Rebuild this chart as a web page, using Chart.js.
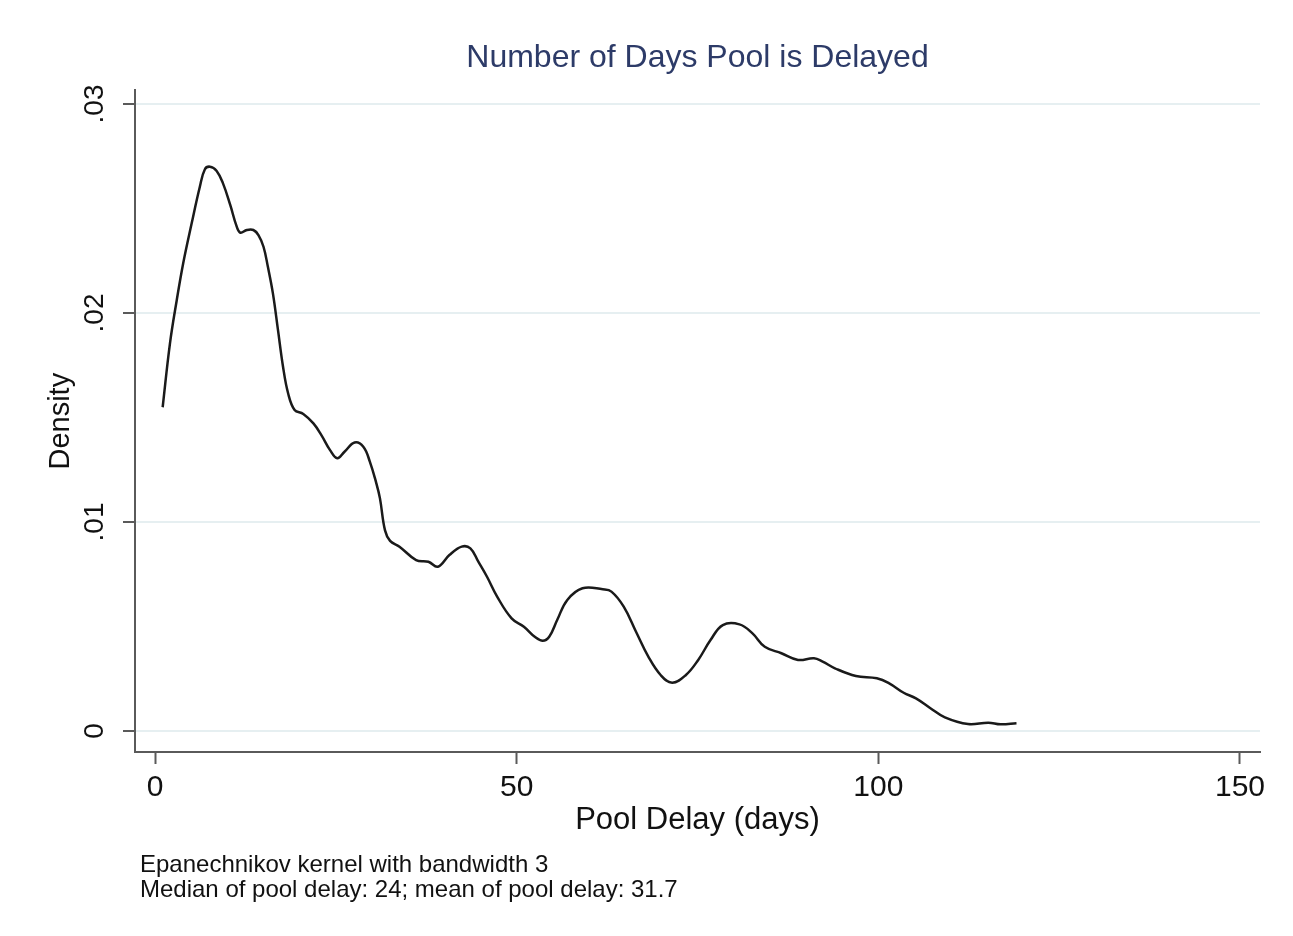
<!DOCTYPE html>
<html>
<head>
<meta charset="utf-8">
<title>Number of Days Pool is Delayed</title>
<script src="https://cdn.jsdelivr.net/npm/chart.js@4.4.1/dist/chart.umd.min.js"></script>
<style>
  html, body { margin: 0; padding: 0; background: #fff; }
  canvas { display: block; }
</style>
</head>
<body>
<canvas id="densityChart" width="1293" height="936"></canvas>
<script>
// kernel density estimate
const delayDays = [
  1.06, 2.07, 3.0, 3.9, 5.07, 6.2, 6.9, 7.6, 8.5, 9.4, 10.4, 11.3, 11.8, 12.7, 13.6,
  14.3, 15.0, 15.6, 16.3, 17.0, 17.7, 18.4, 19.3, 20.5, 21.9, 23.0, 24.2, 25.2, 26.2,
  27.6, 28.8, 29.7, 30.6, 31.1, 31.8, 32.5, 33.8, 36.1, 37.8, 39.1, 40.7, 42.4, 43.6,
  44.7, 45.9, 47.3, 49.3, 51.0, 52.5, 53.6, 54.5, 55.6, 57.0, 59.1, 61.9, 63.1, 64.8,
  66.5, 68.2, 69.9, 71.5, 73.4, 75.1, 76.8, 78.5, 80.8, 82.6, 84.3, 86.6, 88.9, 91.1,
  92.3, 94.0, 96.9, 99.8, 101.5, 103.5, 105.2, 107.2, 109.2, 112.4, 115.2, 116.9, 119.1
];
const density = [
  0.01549, 0.01855, 0.0206, 0.02238, 0.02429, 0.02604, 0.02688, 0.0270, 0.02681, 0.0262,
  0.02517, 0.02413, 0.02384, 0.02397, 0.02397, 0.02373, 0.02317, 0.02222, 0.02094, 0.01919,
  0.01743, 0.01616, 0.01536, 0.01517, 0.01472, 0.01416, 0.01344, 0.01305, 0.01336, 0.0138,
  0.0136, 0.01289, 0.01185, 0.01113, 0.0096, 0.0091, 0.00882, 0.00818, 0.0081, 0.00786,
  0.00842, 0.00882, 0.00874, 0.0081, 0.00738, 0.00643, 0.00539, 0.00499, 0.00451, 0.00432,
  0.00451, 0.00531, 0.00627, 0.00683, 0.00678, 0.00667, 0.00595, 0.00475, 0.00356, 0.00268,
  0.00231, 0.00268, 0.0034, 0.00435, 0.00507, 0.0051, 0.00467, 0.00403, 0.00372, 0.0034,
  0.00348, 0.00332, 0.003, 0.00263, 0.00252, 0.00228, 0.00183, 0.00156, 0.00109, 0.00065,
  0.00033, 0.0004, 0.00032, 0.00037
];

// axis ticks
const xTicks = [0, 50, 100, 150];
const yTicks = [0, 0.01, 0.02, 0.03];
const yTickLabels = ['0', '.01', '.02', '.03'];

const noteLines = [
  'Epanechnikov kernel with bandwidth 3',
  'Median of pool delay: 24; mean of pool delay: 31.7'
];

const FONT = '"Liberation Sans", Arial, Helvetica, sans-serif';
const AXIS_GRAY = '#5a5a5a';

// y tick labels are vertical (Stata style) and the notes sit under the axis title
const extraText = {
  id: 'extraText',
  beforeDraw(chart) {
    const ctx = chart.ctx;
    ctx.save();
    ctx.fillStyle = '#fff';
    ctx.fillRect(0, 0, chart.width, chart.height);
    ctx.restore();
  },
  afterDraw(chart) {
    const ctx = chart.ctx;
    const yScale = chart.scales.y;
    const left = chart.chartArea.left;
    ctx.save();
    ctx.fillStyle = '#111';
    ctx.font = '28px ' + FONT;
    ctx.textAlign = 'center';
    ctx.textBaseline = 'alphabetic';
    yTicks.forEach((v, i) => {
      ctx.save();
      ctx.translate(left - 32, yScale.getPixelForValue(v));
      ctx.rotate(-Math.PI / 2);
      ctx.fillText(yTickLabels[i], 0, 0);
      ctx.restore();
    });
    ctx.font = '24px ' + FONT;
    ctx.textAlign = 'left';
    noteLines.forEach((t, i) => ctx.fillText(t, 140, 872 + i * 25));
    ctx.restore();
  }
};

const points = delayDays.map((d, i) => ({ x: d, y: density[i] }));

const ctx = document.getElementById('densityChart').getContext('2d');
new Chart(ctx, {
  type: 'line',
  data: {
    datasets: [{
      data: points,
      borderColor: '#1a1a1a',
      borderWidth: 2.5,
      pointRadius: 0,
      fill: false,
      tension: 0.4
    }]
  },
  options: {
    responsive: false,
    animation: false,
    devicePixelRatio: 1,
    layout: { padding: { left: 20, right: 33, top: 0, bottom: 84 } },
    plugins: {
      legend: { display: false },
      tooltip: { enabled: false },
      title: {
        display: true,
        fullSize: false,
        text: 'Number of Days Pool is Delayed',
        color: '#2d3b68',
        font: { family: FONT, size: 32, weight: 'normal' },
        padding: { top: 39, bottom: 13 }
      }
    },
    scales: {
      x: {
        type: 'linear',
        min: -2.765,
        max: 152.765,
        afterBuildTicks: (scale) => { scale.ticks = xTicks.map(v => ({ value: v })); },
        afterFit: (scale) => { scale.height = 100; scale.paddingLeft = 0; scale.paddingRight = 0; },
        ticks: {
          color: '#111',
          font: { family: FONT, size: 30 },
          padding: 6,
          maxRotation: 0,
          autoSkip: false,
          callback: (v) => String(v)
        },
        grid: {
          drawOnChartArea: false,
          drawTicks: true,
          tickLength: 12,
          tickWidth: 2,
          tickColor: AXIS_GRAY
        },
        border: { display: true, color: AXIS_GRAY, width: 2 },
        title: {
          display: true,
          text: 'Pool Delay (days)',
          color: '#111',
          font: { family: FONT, size: 31 },
          padding: { top: 0, bottom: 13 }
        }
      },
      y: {
        type: 'linear',
        min: -0.001005,
        max: 0.03065,
        afterBuildTicks: (scale) => { scale.ticks = yTicks.map(v => ({ value: v })); },
        afterFit: (scale) => { scale.width = 115; scale.paddingTop = 0; scale.paddingBottom = 0; },
        ticks: { display: false },
        grid: {
          color: '#e6eff1',
          lineWidth: 2,
          drawTicks: true,
          tickLength: 12,
          tickWidth: 2,
          tickColor: AXIS_GRAY
        },
        border: { display: true, color: AXIS_GRAY, width: 2 },
        title: {
          display: true,
          text: 'Density',
          color: '#111',
          font: { family: FONT, size: 29 },
          padding: { top: 24, bottom: 0 }
        }
      }
    }
  },
  plugins: [extraText]
});
</script>
</body>
</html>
